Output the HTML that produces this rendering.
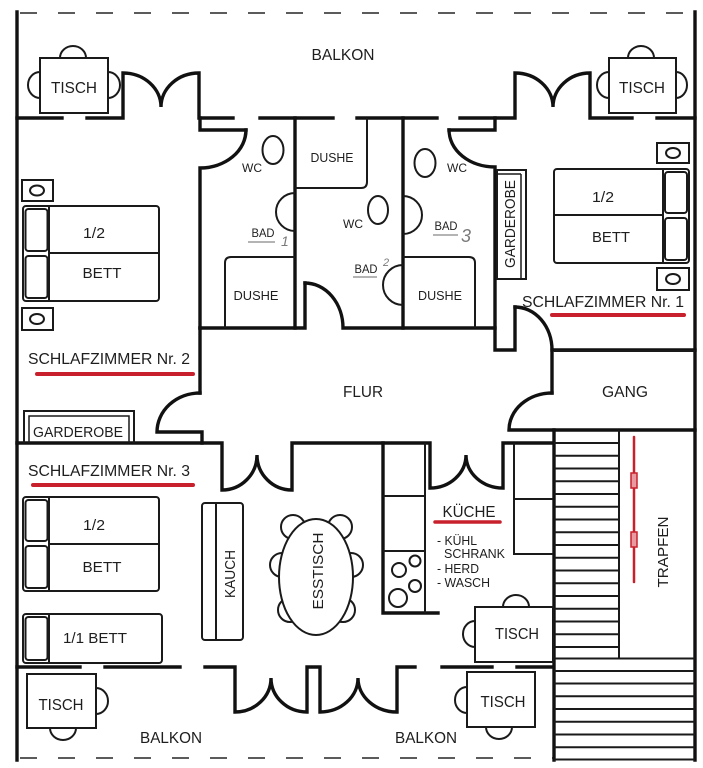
<!DOCTYPE html>
<html><head><meta charset="utf-8"><style>
html,body{margin:0;padding:0;background:#fff;}
svg{display:block;}
text{font-family:"Liberation Sans",Arial,sans-serif;fill:#1e1e1e;}
</style></head><body>
<svg width="703" height="768" viewBox="0 0 703 768" xmlns="http://www.w3.org/2000/svg">
<rect width="703" height="768" fill="#fff"/>
<!-- dashed balcony edges -->
<line x1="20" y1="13" x2="690" y2="13" stroke="#444" stroke-width="1.8" stroke-dasharray="17 21"/>
<line x1="20" y1="758" x2="553" y2="758" stroke="#444" stroke-width="1.8" stroke-dasharray="17 21"/>

<g fill="none" stroke="#111" stroke-width="3.4" stroke-linejoin="miter" stroke-linecap="square">
<!-- outer walls -->
<line x1="17" y1="12" x2="17" y2="760"/>
<line x1="695" y1="12" x2="695" y2="760"/>
<!-- top wall -->
<path d="M17,118 H62"/>
<path d="M87,118 H123 V73 A38 34 0 0 1 161,107 A38 34 0 0 1 199,73 V118 H233"/>
<path d="M200,118 V130 H246"/>
<path d="M246,130 A46 38 0 0 1 200,168 V328"/>
<path d="M260,118 H333"/>
<path d="M357,118 H437"/>
<path d="M460,118 H515 V73 A38 34 0 0 1 553,107 A37 34 0 0 1 590,73 V118 H632"/>
<path d="M657,118 H695"/>
<!-- bath walls -->
<path d="M295,118 V328"/>
<path d="M403,118 V328"/>
<path d="M495,118 V130 H449"/>
<path d="M449,130 A46 37 0 0 0 495,167 V350 H515 V307"/>
<path d="M515,307 A37 43 0 0 1 552,350 H695"/>
<!-- flur -->
<path d="M200,328 H305 V283"/>
<path d="M305,283 A38 45 0 0 1 343,328 H495"/>
<path d="M200,328 V393"/>
<path d="M200,393 A43 39 0 0 0 157,432 H202 V443"/>
<path d="M17,443 H222 V490 A35 35 0 0 0 257,455 A35 35 0 0 0 292,490 V443 H430 V488 A36 33 0 0 0 466,455 A37 33 0 0 0 503,488 V443 H553"/>
<path d="M552,350 V393"/>
<path d="M552,393 A43 37 0 0 0 509,430 H695"/>
<!-- staircase wall -->
<line x1="554" y1="430" x2="554" y2="760"/>
<!-- kitchen counter wall -->
<path d="M383,443 V613 H438"/>
<!-- bottom wall -->
<path d="M17,667 H80"/>
<path d="M105,667 H180"/>
<path d="M205,667 H235 V712 A36 34 0 0 0 271,678 A36 34 0 0 0 307,712 V667 H320 V712 A38 34 0 0 0 358,678 A39 34 0 0 0 397,712 V667 H415"/>
<path d="M442,667 H492"/>
<path d="M517,667 H553"/>
</g>

<!-- fixtures thin lines -->
<g fill="none" stroke="#1a1a1a" stroke-width="2">
<!-- showers -->
<path d="M225,328 V263 Q225,257 231,257 H295"/>
<path d="M295,188 H361 Q367,188 367,182 V118"/>
<path d="M403,257 H469 Q475,257 475,263 V328"/>
<!-- sinks -->
<path d="M295,193 A19 19 0 0 0 295,231"/>
<path d="M403,265 A20 20 0 0 0 403,305"/>
<path d="M403,196 A19 19 0 0 1 403,234"/>
<!-- toilets -->
<ellipse cx="273" cy="150" rx="10.5" ry="14"/>
<ellipse cx="378" cy="210" rx="10" ry="14"/>
<ellipse cx="425" cy="163" rx="10.5" ry="14"/>
<!-- garderobe SZ1 -->
<rect x="497" y="170" width="29" height="109"/>
<path d="M521,174 V279 M497,174 H521" stroke-width="1.5"/>
<!-- garderobe SZ2 -->
<path d="M24,443 V411 H134 V443"/>
<path d="M29,443 V416 H129 V443" stroke-width="1.5"/>
<!-- SZ2 bed -->
<rect x="23" y="206" width="136" height="95" rx="3"/>
<line x1="49" y1="206" x2="49" y2="301"/>
<line x1="49" y1="253" x2="159" y2="253"/>
<rect x="25.5" y="209" width="22" height="42" rx="3"/>
<rect x="25.5" y="256" width="22" height="42" rx="3"/>
<rect x="22" y="180" width="31" height="21"/>
<ellipse cx="37" cy="190.5" rx="7" ry="5"/>
<rect x="22" y="308" width="31" height="22"/>
<ellipse cx="37" cy="319" rx="7" ry="5"/>
<!-- SZ1 bed -->
<rect x="554" y="169" width="135" height="94" rx="3"/>
<line x1="663" y1="169" x2="663" y2="263"/>
<line x1="554" y1="215" x2="663" y2="215"/>
<rect x="665" y="172" width="22" height="41" rx="3"/>
<rect x="665" y="218" width="22" height="42" rx="3"/>
<rect x="657" y="143" width="32" height="20"/>
<ellipse cx="673" cy="153" rx="7" ry="5"/>
<rect x="657" y="268" width="32" height="22"/>
<ellipse cx="673" cy="279" rx="7" ry="5"/>
<!-- SZ3 beds -->
<rect x="23" y="497" width="136" height="94" rx="3"/>
<line x1="49" y1="497" x2="49" y2="591"/>
<line x1="49" y1="544" x2="159" y2="544"/>
<rect x="25.5" y="500" width="22" height="41" rx="3"/>
<rect x="25.5" y="546" width="22" height="42" rx="3"/>
<rect x="23" y="614" width="139" height="49" rx="3"/>
<line x1="49" y1="614" x2="49" y2="663"/>
<rect x="25.5" y="617" width="22" height="43" rx="3"/>
<!-- Kauch -->
<rect x="202" y="503" width="41" height="137" rx="3"/>
<line x1="216" y1="503" x2="216" y2="640"/>
<!-- Esstisch chairs -->
<g fill="#fff">
<circle cx="293" cy="527" r="12"/>
<circle cx="282" cy="565" r="12"/>
<circle cx="290" cy="610" r="12"/>
<circle cx="340" cy="527" r="12"/>
<circle cx="351" cy="565" r="12"/>
<circle cx="343" cy="610" r="12"/>
<ellipse cx="316" cy="577" rx="37" ry="58"/>
</g>
<!-- kitchen counters -->
<line x1="425" y1="443" x2="425" y2="613"/>
<line x1="383" y1="496" x2="425" y2="496"/>
<line x1="383" y1="551" x2="425" y2="551"/>
<circle cx="399" cy="570" r="7"/>
<circle cx="415" cy="561" r="5.5"/>
<circle cx="415" cy="586" r="6"/>
<circle cx="398" cy="598" r="9"/>
<path d="M514,443 V554 H553"/>
<line x1="514" y1="499" x2="553" y2="499"/>
<!-- Tische -->
<rect x="40" y="58" width="68" height="55"/>
<path d="M60,58 A13 12 0 0 1 86,58"/>
<path d="M40,72 A12 13 0 0 0 40,98"/>
<path d="M108,72 A12 13 0 0 1 108,98"/>
<rect x="609" y="58" width="67" height="55"/>
<path d="M628,58 A13 12 0 0 1 654,58"/>
<path d="M609,72 A12 13 0 0 0 609,98"/>
<path d="M676,72 A11 13 0 0 1 676,98"/>
<rect x="27" y="674" width="69" height="54"/>
<path d="M96,688 A12 13 0 0 1 96,714"/>
<path d="M50,728 A13 12 0 0 0 76,728"/>
<rect x="475" y="607" width="78" height="55"/>
<path d="M503,607 A13 12 0 0 1 529,607"/>
<path d="M475,621 A12 13 0 0 0 475,647"/>
<rect x="467" y="672" width="68" height="55"/>
<path d="M467,687 A12 13 0 0 0 467,713"/>
<path d="M486,727 A13 12 0 0 0 512,727"/>
<!-- stairs -->
<line x1="619" y1="430" x2="619" y2="658"/>
<line x1="554" y1="351" x2="695" y2="351"/>
</g>
<g stroke="#1a1a1a" stroke-width="2">
<line x1="554" y1="443" x2="619" y2="443"/>
<line x1="554" y1="455.75" x2="619" y2="455.75"/>
<line x1="554" y1="468.5" x2="619" y2="468.5"/>
<line x1="554" y1="481.25" x2="619" y2="481.25"/>
<line x1="554" y1="494" x2="619" y2="494"/>
<line x1="554" y1="506.75" x2="619" y2="506.75"/>
<line x1="554" y1="519.5" x2="619" y2="519.5"/>
<line x1="554" y1="532.25" x2="619" y2="532.25"/>
<line x1="554" y1="545" x2="619" y2="545"/>
<line x1="554" y1="557.75" x2="619" y2="557.75"/>
<line x1="554" y1="570.5" x2="619" y2="570.5"/>
<line x1="554" y1="583.25" x2="619" y2="583.25"/>
<line x1="554" y1="596" x2="619" y2="596"/>
<line x1="554" y1="608.75" x2="619" y2="608.75"/>
<line x1="554" y1="621.5" x2="619" y2="621.5"/>
<line x1="554" y1="634.25" x2="619" y2="634.25"/>
<line x1="554" y1="647" x2="619" y2="647"/>
<line x1="554" y1="658.5" x2="695" y2="658.5"/>
<line x1="554" y1="671" x2="695" y2="671"/>
<line x1="554" y1="683.5" x2="695" y2="683.5"/>
<line x1="554" y1="696.25" x2="695" y2="696.25"/>
<line x1="554" y1="709" x2="695" y2="709"/>
<line x1="554" y1="721.75" x2="695" y2="721.75"/>
<line x1="554" y1="734.5" x2="695" y2="734.5"/>
<line x1="554" y1="747.25" x2="695" y2="747.25"/>
<line x1="554" y1="759.5" x2="695" y2="759.5"/>
</g>

<!-- red marks -->
<g stroke="#c8202c" stroke-width="4" stroke-linecap="round">
<line x1="37" y1="374" x2="193" y2="374"/>
<line x1="33" y1="485" x2="193" y2="485"/>
<line x1="552" y1="315" x2="684" y2="315"/>
<line x1="435" y1="522" x2="500" y2="522" stroke-width="3.5"/>
<line x1="634" y1="437" x2="634" y2="582" stroke-width="2.5"/>
</g>
<g fill="#e89aa0" stroke="#c8202c" stroke-width="1.5">
<rect x="631" y="473" width="6" height="15"/>
<rect x="631" y="532" width="6" height="15"/>
</g>

<!-- BAD underlines -->
<g stroke="#888" stroke-width="1.3">
<line x1="248" y1="242" x2="275" y2="242"/>
<line x1="353" y1="277" x2="377" y2="277"/>
<line x1="433" y1="235" x2="458" y2="235"/>
</g>

<!-- labels -->
<g text-anchor="middle" lengthAdjust="spacingAndGlyphs">
<text x="343" y="60" font-size="16" textLength="63" lengthAdjust="spacingAndGlyphs">BALKON</text>
<text x="74" y="93" font-size="16" textLength="46" lengthAdjust="spacingAndGlyphs">TISCH</text>
<text x="642" y="93" font-size="16" textLength="46" lengthAdjust="spacingAndGlyphs">TISCH</text>
<text x="252" y="172" font-size="12" textLength="20" lengthAdjust="spacingAndGlyphs">WC</text>
<text x="332" y="162" font-size="13" textLength="43" lengthAdjust="spacingAndGlyphs">DUSHE</text>
<text x="353" y="228" font-size="12" textLength="20" lengthAdjust="spacingAndGlyphs">WC</text>
<text x="457" y="172" font-size="12" textLength="20" lengthAdjust="spacingAndGlyphs">WC</text>
<text x="263" y="237" font-size="12" textLength="23" lengthAdjust="spacingAndGlyphs">BAD</text>
<text x="366" y="273" font-size="12" textLength="23" lengthAdjust="spacingAndGlyphs">BAD</text>
<text x="446" y="230" font-size="12" textLength="23" lengthAdjust="spacingAndGlyphs">BAD</text>
<text x="256" y="300" font-size="13" textLength="45" lengthAdjust="spacingAndGlyphs">DUSHE</text>
<text x="440" y="300" font-size="13" textLength="44" lengthAdjust="spacingAndGlyphs">DUSHE</text>
<text transform="translate(515,224) rotate(-90)" x="0" y="0" font-size="15" textLength="88" lengthAdjust="spacingAndGlyphs">GARDEROBE</text>
<text x="78" y="437" font-size="15" textLength="90" lengthAdjust="spacingAndGlyphs">GARDEROBE</text>
<text x="94" y="238" font-size="15" textLength="22" lengthAdjust="spacingAndGlyphs">1/2</text>
<text x="102" y="278" font-size="15" textLength="39" lengthAdjust="spacingAndGlyphs">BETT</text>
<text x="109" y="364" font-size="16" textLength="162" lengthAdjust="spacingAndGlyphs">SCHLAFZIMMER Nr. 2</text>
<text x="109" y="476" font-size="16" textLength="162" lengthAdjust="spacingAndGlyphs">SCHLAFZIMMER Nr. 3</text>
<text x="603" y="307" font-size="16" textLength="162" lengthAdjust="spacingAndGlyphs">SCHLAFZIMMER Nr. 1</text>
<text x="94" y="530" font-size="15" textLength="22" lengthAdjust="spacingAndGlyphs">1/2</text>
<text x="102" y="572" font-size="15" textLength="39" lengthAdjust="spacingAndGlyphs">BETT</text>
<text x="95" y="643" font-size="15" textLength="64" lengthAdjust="spacingAndGlyphs">1/1 BETT</text>
<text transform="translate(235,574) rotate(-90)" x="0" y="0" font-size="15" textLength="48" lengthAdjust="spacingAndGlyphs">KAUCH</text>
<text transform="translate(323,571) rotate(-90)" x="0" y="0" font-size="15" textLength="77" lengthAdjust="spacingAndGlyphs">ESSTISCH</text>
<text x="61" y="710" font-size="16" textLength="45" lengthAdjust="spacingAndGlyphs">TISCH</text>
<text x="171" y="743" font-size="16" textLength="62" lengthAdjust="spacingAndGlyphs">BALKON</text>
<text x="426" y="743" font-size="16" textLength="62" lengthAdjust="spacingAndGlyphs">BALKON</text>
<text x="517" y="639" font-size="16" textLength="44" lengthAdjust="spacingAndGlyphs">TISCH</text>
<text x="503" y="707" font-size="16" textLength="45" lengthAdjust="spacingAndGlyphs">TISCH</text>
<text x="469" y="517" font-size="16" textLength="53" lengthAdjust="spacingAndGlyphs">KÜCHE</text>
<text x="363" y="397" font-size="16" textLength="40" lengthAdjust="spacingAndGlyphs">FLUR</text>
<text x="625" y="397" font-size="16" textLength="46" lengthAdjust="spacingAndGlyphs">GANG</text>
<text x="603" y="202" font-size="15" textLength="22" lengthAdjust="spacingAndGlyphs">1/2</text>
<text x="611" y="242" font-size="15" textLength="38" lengthAdjust="spacingAndGlyphs">BETT</text>
<text transform="translate(668,552) rotate(-90)" x="0" y="0" font-size="15" textLength="71" lengthAdjust="spacingAndGlyphs">TRAPFEN</text>
</g>
<g font-size="13">
<text x="437" y="545" textLength="40" lengthAdjust="spacingAndGlyphs">- KÜHL</text>
<text x="444" y="558" textLength="61" lengthAdjust="spacingAndGlyphs">SCHRANK</text>
<text x="437" y="573" textLength="42" lengthAdjust="spacingAndGlyphs">- HERD</text>
<text x="437" y="587" textLength="53" lengthAdjust="spacingAndGlyphs">- WASCH</text>
</g>
<!-- handwritten numbers -->
<g font-family="'Liberation Serif',serif" font-style="italic" style="fill:#7a7a7a">
<text x="281" y="246" font-size="14" style="fill:#7a7a7a">1</text>
<text x="383" y="266" font-size="11" style="fill:#7a7a7a">2</text>
<text x="461" y="242" font-size="18" style="fill:#7a7a7a">3</text>
</g>
</svg>
</body></html>
